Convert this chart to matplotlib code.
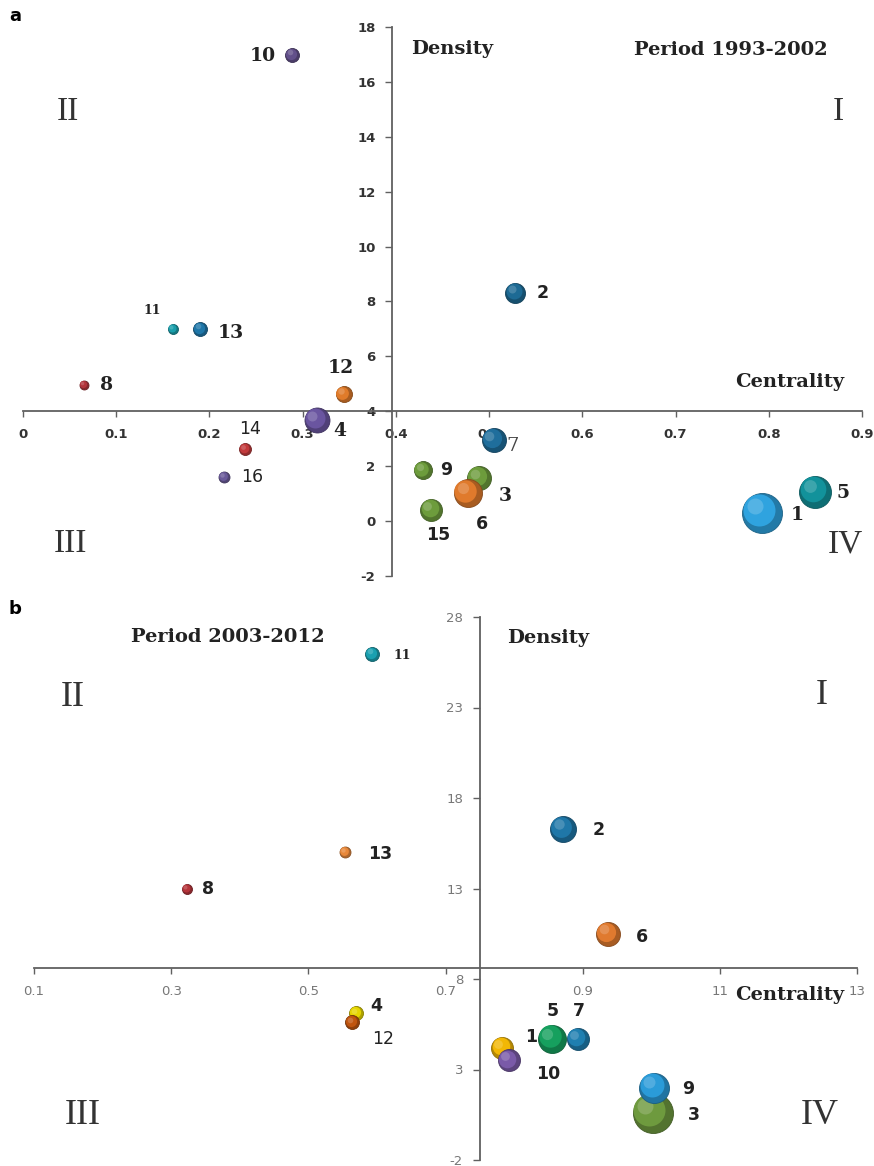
import matplotlib
matplotlib.use("Agg")
import matplotlib.pyplot as plt
from matplotlib.colors import to_rgb
from matplotlib.transforms import ScaledTranslation

plt.rcParams["axes.unicode_minus"] = False

# ---- panel a : period 1993-2002 ----
a_ids = ["1", "2", "3", "4", "5", "6", "7", "8", "9", "10", "11", "12", "13", "14", "15", "16"]
a_centrality = [0.793, 0.528, 0.489, 0.315, 0.850, 0.477, 0.505, 0.065, 0.429, 0.289, 0.161, 0.344, 0.190, 0.238, 0.438, 0.216]
a_density = [0.30, 8.31, 1.57, 3.68, 1.06, 1.02, 2.95, 4.96, 1.86, 16.98, 7.0, 4.63, 7.0, 2.63, 0.40, 1.60]
a_size = [40, 20, 24, 25, 32, 28, 24, 9, 18, 14, 10, 16, 14, 12, 22, 11]
a_colors = ["#2fa3df", "#1d6a94", "#6d9c3c", "#6a55a0", "#12929b", "#e07a2c", "#1f6e9c", "#b3343b",
            "#6d9c3c", "#62508a", "#199eab", "#e07b2a", "#1f77a9", "#c23a3c", "#6d9c3c", "#6a5a9a"]
a_xticks = [0, 0.1, 0.2, 0.3, 0.4, 0.5, 0.6, 0.7, 0.8, 0.9]
a_xticklabels = ["0", "0.1", "0.2", "0.3", "0.4", "0.5", "0.6", "0.7", "0.8", "0.9"]
a_yticks = [-2, 0, 2, 4, 6, 8, 10, 12, 14, 16, 18]

# ---- panel b : period 2003-2012 ----
b_ids = ["1", "2", "3", "4", "5", "6", "7", "8", "9", "10", "11", "12", "13"]
b_centrality = [0.783, 0.872, 1.002, 0.570, 0.856, 0.937, 0.893, 0.323, 1.004, 0.792, 0.593, 0.564, 0.553]
b_density = [4.2, 16.3, 0.6, 6.1, 4.7, 10.5, 4.7, 13.0, 2.0, 3.5, 25.96, 5.6, 15.0]
b_size = [22, 26, 40, 14, 28, 24, 22, 10, 30, 22, 14, 14, 11]
b_colors = ["#f2b705", "#1f77a8", "#6e9a3e", "#e6d600", "#16a05e", "#e07a2f", "#1f7fb0", "#b5343a",
            "#2a9bd8", "#7a5aa8", "#1aa0b0", "#c0550f", "#e8883a"]
b_xticks = [0.1, 0.3, 0.5, 0.7, 0.9, 1.1, 1.3]
b_xticklabels = ["0.1", "0.3", "0.5", "0.7", "0.9", "11", "13"]
b_yticks = [-2, 3, 8, 13, 18, 23, 28]

# label offsets (pixels) and fonts for the point numbers
a_offsets = [(35, -2), (27, 0), (26, -18), (23, -11), (28, -1), (14, -31), (19, -6), (23, 0),
             (23, 0), (-30, -1), (-21, 18), (-3, 26), (31, -4), (5, 20), (7, -25), (28, 0)]
a_fonts = ["serif", "sans", "serif", "serif", "serif", "sans", "serif7", "serif", "sans", "serif",
           "serif_s", "serif", "serif", "sans_r", "sans", "sans_r"]
b_offsets = [(29, 11), (35, -1), (41, -2), (20, 7), (0, 28), (34, -3), (1, 28), (21, 0),
             (34, -1), (40, -14), (30, -2), (31, -17), (35, -2)]
b_fonts = ["sans", "sans", "sans", "sans", "sans", "sans", "sans", "sans", "sans", "sans",
           "serif_s", "sans_r", "sans"]

W, H = 874, 1166
SERIF = ["DejaVu Serif"]
QUAD = ["Liberation Serif"]
TITLE = 14

fig = plt.figure(figsize=(W / 100, H / 100), dpi=100)


def px_axes(x0, x1, y0, y1):
    return fig.add_axes([x0 / W, 1 - y1 / H, (x1 - x0) / W, (y1 - y0) / H])


def ftext(x, y, s, **kw):
    fig.text(x / W, 1 - y / H, s, ha="center", va="center", **kw)


def shade(c, f):
    r, g, b = to_rgb(c)
    if f < 1:
        return (r * f, g * f, b * f)
    return (r + (1 - r) * (f - 1), g + (1 - g) * (f - 1), b + (1 - b) * (f - 1))


def ball(ax, x, y, d, c):
    # fake 3d ball: dark rim, body, soft highlight up-left
    pt = d * 0.72
    ax.scatter([x], [y], s=pt ** 2, color=shade(c, 0.75), edgecolors=shade(c, 0.6),
               linewidths=0.6, zorder=3, clip_on=False)
    off = ScaledTranslation(-pt * 0.08 / 72, pt * 0.08 / 72, fig.dpi_scale_trans)
    ax.scatter([x], [y], s=(pt * 0.8) ** 2, color=c, linewidths=0, zorder=3,
               clip_on=False, transform=ax.transData + off)
    off2 = ScaledTranslation(-pt * 0.18 / 72, pt * 0.18 / 72, fig.dpi_scale_trans)
    ax.scatter([x], [y], s=(pt * 0.4) ** 2, color=shade(c, 1.3), alpha=0.6, linewidths=0,
               zorder=3, clip_on=False, transform=ax.transData + off2)


def point_label(ax, x, y, s, off, kind):
    if kind == "serif":
        kw = dict(family=SERIF, weight="bold", fontsize=13.5, color="#222222")
    elif kind == "serif_s":
        kw = dict(family=SERIF, weight="bold", fontsize=9, color="#222222")
    elif kind == "serif7":
        kw = dict(family=SERIF, fontsize=14, color="#444444")
    elif kind == "sans_r":
        kw = dict(family="DejaVu Sans", fontsize=12.5, color="#222222")
    else:
        kw = dict(family="DejaVu Sans", weight="bold", fontsize=12.5, color="#222222")
    ax.annotate(s, (x, y), xytext=off, textcoords="offset pixels", ha="center",
                va="center", zorder=4, annotation_clip=False, **kw)


def setup(ax, xlim, ylim, ycross, xcross, xticks, xlabels, yticks, tickstyle, xpad):
    ax.set_xlim(*xlim)
    ax.set_ylim(*ylim)
    for s in ["top", "right"]:
        ax.spines[s].set_visible(False)
    ax.spines["left"].set_position(("data", ycross))
    ax.spines["bottom"].set_position(("data", xcross))
    for s in ["left", "bottom"]:
        ax.spines[s].set_color("#606060")
        ax.spines[s].set_linewidth(1.3)
    ax.set_xticks(xticks)
    ax.set_xticklabels(xlabels)
    ax.set_yticks(yticks)
    ax.tick_params(axis="x", direction="out", length=4, width=1, color="#606060", pad=xpad, **tickstyle)
    ax.tick_params(axis="y", direction="out", length=5, width=1, color="#606060", pad=7, **tickstyle)
    ax.patch.set_alpha(0)


# ---------------- panel a ----------------
ax_a = px_axes(23, 862, 27, 576)
setup(ax_a, (0, 0.9), (-2, 18), 0.396, 4, a_xticks, a_xticklabels, a_yticks,
      dict(labelsize=9.5, labelcolor="#333333"), 8)
for t in ax_a.get_xticklabels() + ax_a.get_yticklabels():
    t.set_fontweight("bold")
for i in range(len(a_ids)):
    ball(ax_a, a_centrality[i], a_density[i], a_size[i], a_colors[i])
    point_label(ax_a, a_centrality[i], a_density[i], a_ids[i], a_offsets[i], a_fonts[i])

ftext(15, 16, "a", family="DejaVu Sans", weight="bold", fontsize=13)
ftext(452, 49, "Density", family=SERIF, weight="bold", fontsize=TITLE, color="#222222")
ftext(731, 50, "Period 1993-2002", family=SERIF, weight="bold", fontsize=TITLE, color="#222222")
ftext(790, 382, "Centrality", family=SERIF, weight="bold", fontsize=TITLE, color="#222222")
ftext(68, 112, "II", family=QUAD, fontsize=24, color="#333333")
ftext(838, 112, "I", family=QUAD, fontsize=24, color="#333333")
ftext(70, 544, "III", family=QUAD, fontsize=24, color="#333333")
ftext(845, 544, "IV", family=QUAD, fontsize=24, color="#333333")

# ---------------- panel b ----------------
ax_b = px_axes(34, 857, 617, 1160)
setup(ax_b, (0.1, 1.3), (-2, 28), 0.75, 8.6, b_xticks, b_xticklabels, b_yticks,
      dict(labelsize=9.5, labelcolor="#777777"), 8)
for i in range(len(b_ids)):
    ball(ax_b, b_centrality[i], b_density[i], b_size[i], b_colors[i])
    point_label(ax_b, b_centrality[i], b_density[i], b_ids[i], b_offsets[i], b_fonts[i])

ftext(15, 609, "b", family="DejaVu Sans", weight="bold", fontsize=13)
ftext(228, 637, "Period 2003-2012", family=SERIF, weight="bold", fontsize=TITLE, color="#222222")
ftext(548, 638, "Density", family=SERIF, weight="bold", fontsize=TITLE, color="#222222")
ftext(790, 995, "Centrality", family=SERIF, weight="bold", fontsize=TITLE, color="#222222")
ftext(73, 697, "II", family=QUAD, fontsize=26, color="#333333")
ftext(822, 696, "I", family=QUAD, fontsize=26, color="#333333")
ftext(83, 1115, "III", family=QUAD, fontsize=26, color="#333333")
ftext(820, 1115, "IV", family=QUAD, fontsize=26, color="#333333")

fig.savefig("out.png", dpi=100)
